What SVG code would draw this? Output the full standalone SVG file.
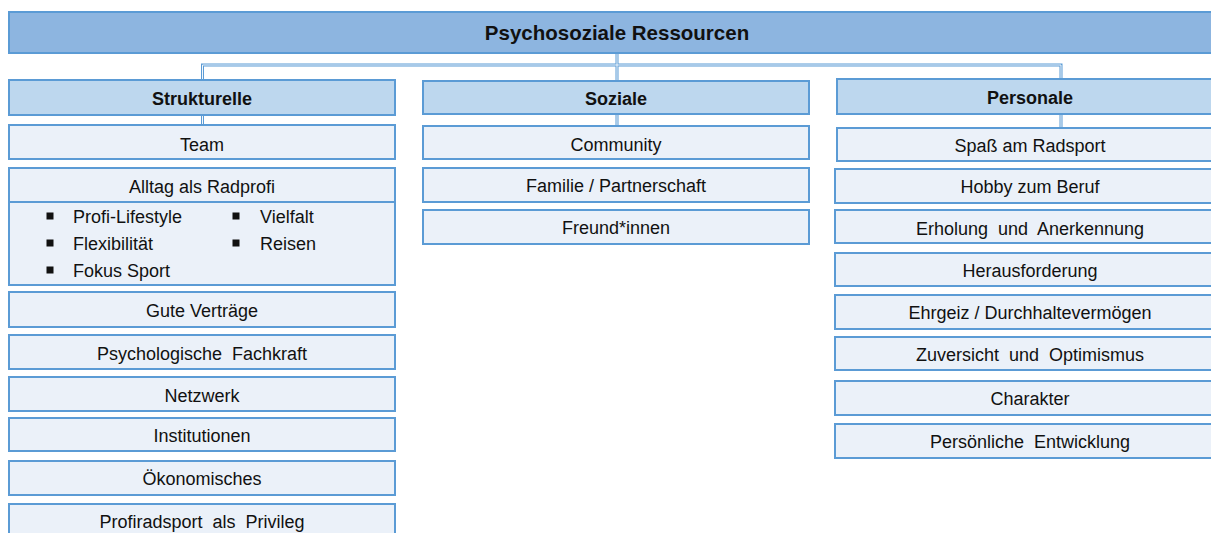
<svg xmlns="http://www.w3.org/2000/svg" width="1211" height="533" viewBox="0 0 1211 533">
<style>
  text { font-family: "Liberation Sans", Arial, sans-serif; fill: #111; }
  .top { fill: #8DB5E0; stroke: #5B9BD5; stroke-width: 2; }
  .hdr { fill: #BDD7EE; stroke: #5B9BD5; stroke-width: 2; }
  .item { fill: #EBF1F9; stroke: #5B9BD5; stroke-width: 2; }
  .t { font-size: 18px; text-anchor: middle; }
  .tb { font-size: 18px; font-weight: bold; text-anchor: middle; }
  .bl { font-size: 18px; }
  .conn { fill: none; stroke: #5B9BD5; stroke-width: 3; }
  .conn2 { fill: none; stroke: #F4F8FC; stroke-width: 1; }
  .bullet { fill: #111; }
</style>
<rect width="1211" height="533" fill="#FFFFFF"/>

<g id="connectors">
  <path class="conn" d="M617 53 V81 M202.5 80 V65 H1061 V79 M202.5 115 V125 M617 114 V126 M1061 114 V128"/>
  <path class="conn2" d="M617 53 V81 M202.5 80 V65 H1061 V79 M202.5 115 V125 M617 114 V126 M1061 114 V128"/>
</g>

<g id="root">
  <rect class="top" x="9" y="12" width="1215" height="41"/>
  <text x="617" y="40" style="font-size:20.5px;font-weight:bold;text-anchor:middle">Psychosoziale Ressourcen</text>
</g>

<g id="strukturelle">
  <rect class="hdr" x="9" y="80" width="386" height="35"/>
  <text class="tb" x="202" y="104.5">Strukturelle</text>
</g>
<g id="team">
  <rect class="item" x="9" y="125" width="386" height="34"/>
  <text class="t" x="202" y="151">Team</text>
</g>
<g id="alltag">
  <rect class="item" x="9" y="168" width="386" height="34"/>
  <text class="t" x="202" y="193">Alltag als Radprofi</text>
</g>
<g id="alltag-details">
  <rect class="item" x="9" y="202" width="386" height="83"/>
  <rect class="bullet" x="46.5" y="212.5" width="7" height="7"/>
  <text class="bl" x="73" y="223">Profi-Lifestyle</text>
  <rect class="bullet" x="46.5" y="239.5" width="7" height="7"/>
  <text class="bl" x="73" y="250">Flexibilität</text>
  <rect class="bullet" x="46.5" y="266.5" width="7" height="7"/>
  <text class="bl" x="73" y="277">Fokus Sport</text>
  <rect class="bullet" x="232.5" y="212.5" width="7" height="7"/>
  <text class="bl" x="260" y="223">Vielfalt</text>
  <rect class="bullet" x="232.5" y="239.5" width="7" height="7"/>
  <text class="bl" x="260" y="250">Reisen</text>
</g>
<g id="vertraege">
  <rect class="item" x="9" y="292" width="386" height="35"/>
  <text class="t" x="202" y="317">Gute Verträge</text>
</g>
<g id="fachkraft">
  <rect class="item" x="9" y="335" width="386" height="34"/>
  <text class="t" x="202" y="360" xml:space="preserve">Psychologische  Fachkraft</text>
</g>
<g id="netzwerk">
  <rect class="item" x="9" y="377" width="386" height="34"/>
  <text class="t" x="202" y="402">Netzwerk</text>
</g>
<g id="institutionen">
  <rect class="item" x="9" y="418" width="386" height="33"/>
  <text class="t" x="202" y="442">Institutionen</text>
</g>
<g id="oekonomisches">
  <rect class="item" x="9" y="461" width="386" height="34"/>
  <text class="t" x="202" y="485">Ökonomisches</text>
</g>
<g id="privileg">
  <rect class="item" x="9" y="504" width="386" height="40"/>
  <text class="t" x="202" y="528" xml:space="preserve">Profiradsport  als  Privileg</text>
</g>

<g id="soziale">
  <rect class="hdr" x="423" y="81" width="386" height="33"/>
  <text class="tb" x="616" y="104.5">Soziale</text>
</g>
<g id="community">
  <rect class="item" x="423" y="126" width="386" height="33"/>
  <text class="t" x="616" y="151">Community</text>
</g>
<g id="familie">
  <rect class="item" x="423" y="168" width="386" height="34"/>
  <text class="t" x="616" y="192">Familie / Partnerschaft</text>
</g>
<g id="freunde">
  <rect class="item" x="423" y="210" width="386" height="34"/>
  <text class="t" x="616" y="234">Freund*innen</text>
</g>

<g id="personale">
  <rect class="hdr" x="837" y="79" width="386" height="35"/>
  <text class="tb" x="1030" y="104">Personale</text>
</g>
<g id="spass">
  <rect class="item" x="837" y="128" width="386" height="33"/>
  <text class="t" x="1030" y="152">Spaß am Radsport</text>
</g>
<g id="hobby">
  <rect class="item" x="835" y="169" width="386" height="34"/>
  <text class="t" x="1030" y="193">Hobby zum Beruf</text>
</g>
<g id="erholung">
  <rect class="item" x="835" y="210" width="386" height="33"/>
  <text class="t" x="1030" y="235" xml:space="preserve">Erholung  und  Anerkennung</text>
</g>
<g id="herausforderung">
  <rect class="item" x="835" y="253" width="386" height="33"/>
  <text class="t" x="1030" y="277">Herausforderung</text>
</g>
<g id="ehrgeiz">
  <rect class="item" x="835" y="295" width="386" height="34"/>
  <text class="t" x="1030" y="319">Ehrgeiz / Durchhaltevermögen</text>
</g>
<g id="zuversicht">
  <rect class="item" x="835" y="337" width="386" height="33"/>
  <text class="t" x="1030" y="361" xml:space="preserve">Zuversicht  und  Optimismus</text>
</g>
<g id="charakter">
  <rect class="item" x="835" y="381" width="386" height="34"/>
  <text class="t" x="1030" y="405">Charakter</text>
</g>
<g id="entwicklung">
  <rect class="item" x="835" y="424" width="386" height="34"/>
  <text class="t" x="1030" y="448" xml:space="preserve">Persönliche  Entwicklung</text>
</g>
</svg>
